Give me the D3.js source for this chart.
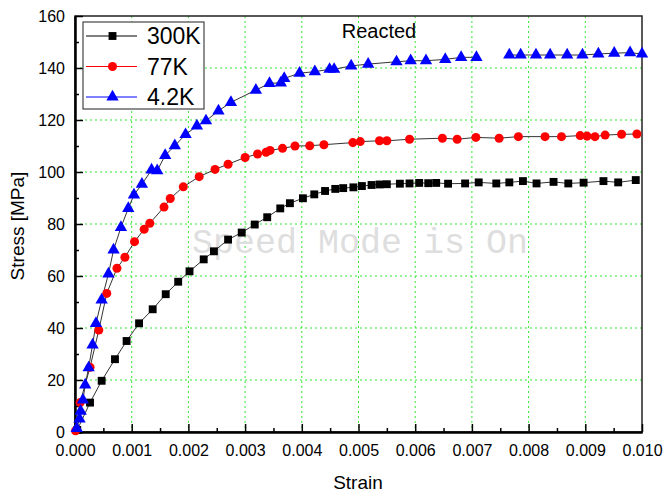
<!DOCTYPE html>
<html><head><meta charset="utf-8">
<script src="https://cdn.jsdelivr.net/npm/d3@7"></script>
<style>body{margin:0;background:#fff}svg{display:block}text{font-family:"Liberation Sans",Arial,sans-serif}</style>
</head><body><svg id="c" width="665" height="493"></svg>
<script>
// ---- data ----
const xTickValues = [0, 0.001, 0.002, 0.003, 0.004, 0.005, 0.006, 0.007, 0.008, 0.009, 0.010];
const yTickValues = [0, 20, 40, 60, 80, 100, 120, 140, 160];
const seriesNames = ["300K", "77K", "4.2K"];
const seriesColors = ["#000000", "#ff0000", "#0000ff"];
const chartTitle = "Reacted";
const xLabel = "Strain";
const yLabel = "Stress [MPa]";
const watermark = "Speed Mode is On";

const data300K = [
  [0.00004,0.8],[0.000265,11.3],[0.00047,19.7],[0.000705,28],[0.00091,35],[0.00113,41.8],[0.00137,47.2],
  [0.0016,53],[0.00182,57.8],[0.00202,61.8],[0.00227,66.4],[0.00245,69.5],[0.0027,74],[0.00294,76.7],
  [0.00317,79.8],[0.00339,82.6],[0.00362,86],[0.00379,88],[0.00402,89.9],[0.00422,91.4],[0.00441,92.7],
  [0.00459,93.5],[0.00473,93.8],[0.00491,94.1],[0.00506,94.6],[0.00523,95],[0.00537,95.2],[0.0055,95.3],
  [0.00573,95.5],[0.0059,95.6],[0.00607,95.8],[0.00623,95.7],[0.00637,95.8],[0.00658,95.5],[0.00688,95.6],
  [0.00712,96],[0.00743,95.6],[0.00766,96],[0.0079,96.5],[0.00814,95.6],[0.00844,96.2],[0.0087,95.6],
  [0.00897,95.9],[0.00932,96.5],[0.00958,96],[0.00989,96.9]
];
const data77K = [
  [0.00001,0.5],[0.00009,11.3],[0.000265,24.9],[0.00042,39.2],[0.00056,53.3],[0.00074,63],[0.00088,67.2],
  [0.00105,73.2],[0.00122,78],[0.00132,80.3],[0.00157,86.5],[0.00168,89.8],[0.00191,94.3],[0.00219,98.2],
  [0.00247,101],[0.0027,103],[0.003,105.6],[0.00322,106.9],[0.00337,107.6],[0.00344,108.3],[0.00366,109.1],
  [0.00388,110],[0.00414,110.1],[0.00439,110.5],[0.0049,111.3],[0.00503,111.7],[0.00537,112],[0.0055,112],
  [0.0059,112.6],[0.00648,113],[0.00674,112.6],[0.00707,113.3],[0.00748,113],[0.00782,113.6],[0.00829,113.6],
  [0.00858,113.6],[0.00891,114],[0.00903,113.8],[0.00917,113.6],[0.00935,114.2],[0.00964,114.5],[0.00991,114.6]
];
const data4K = [
  [0.00003,1.4],[0.00008,5],[0.0001,8],[0.00014,12.3],[0.00018,18.1],[0.00024,24.7],[0.00031,33.5],
  [0.00037,41.8],[0.00047,50.8],[0.00059,60.8],[0.00068,70],[0.00081,78.7],[0.00094,86],[0.00104,91.2],
  [0.00118,95.3],[0.00135,100.8],[0.00145,100.5],[0.00159,106.4],[0.00176,110.1],[0.00195,114.4],
  [0.00215,117.7],[0.00231,119.7],[0.00253,123.5],[0.00275,126.8],[0.00319,131.5],[0.00343,134.1],
  [0.00363,134.3],[0.00369,136],[0.00396,138],[0.00423,138.6],[0.00449,139.5],[0.00457,139.5],
  [0.00487,140.8],[0.00517,141.5],[0.00567,142.4],[0.00592,142.8],[0.00619,142.8],[0.00653,143.3],
  [0.00681,144.1],[0.00708,144.1],null,[0.00766,145],[0.00786,145],[0.00813,145],[0.00838,145],
  [0.00868,145],[0.00895,145],[0.00923,145.4],[0.00951,145.7],[0.00979,145.9],[0.01,145.4]
];
const allSeries = [data300K, data77K, data4K];

// ---- layout ----
const L = 75, R = 642, T = 16, B = 432;
const svg = d3.select("#c");
const x = d3.scaleLinear().domain([0, 0.010]).range([L, R]);
const y = d3.scaleLinear().domain([0, 160]).range([B, T]);

// grid
const gridColor = "#33e633";
svg.append("g").selectAll("line").data(xTickValues.slice(1, -1)).join("line")
  .attr("x1", d => x(d)).attr("x2", d => x(d)).attr("y1", T).attr("y2", B)
  .attr("stroke", gridColor).attr("stroke-width", 1).attr("stroke-dasharray", "2,3");
svg.append("g").selectAll("line").data(yTickValues.slice(1, -1)).join("line")
  .attr("y1", d => y(d)).attr("y2", d => y(d)).attr("x1", L).attr("x2", R)
  .attr("stroke", gridColor).attr("stroke-width", 1).attr("stroke-dasharray", "2,3");

// watermark
svg.append("text").attr("x", 192).attr("y", 253).text(watermark)
  .style("font-family", "'Liberation Mono', 'Courier New', monospace")
  .style("font-size", "35px").attr("fill", "#dedede");

// frame
svg.append("rect").attr("x", L).attr("y", T).attr("width", R - L).attr("height", B - T)
  .attr("fill", "none").attr("stroke", "#222").attr("stroke-width", 1.5);

// axes
const fmt = d3.format(".3f");
const xAxis = svg.append("g").attr("transform", `translate(0,${B})`)
  .call(d3.axisBottom(x).tickValues(xTickValues).tickFormat(fmt).tickSizeInner(-8).tickSizeOuter(0).tickPadding(13));
const xMinor = svg.append("g").attr("transform", `translate(0,${B})`)
  .call(d3.axisBottom(x).tickValues(xTickValues.slice(0, -1).map(v => v + 0.0005)).tickFormat("").tickSizeInner(-4).tickSizeOuter(0));
const yAxis = svg.append("g").attr("transform", `translate(${L},0)`)
  .call(d3.axisLeft(y).tickValues(yTickValues).tickSizeInner(-8).tickSizeOuter(0).tickPadding(10));
const yMinor = svg.append("g").attr("transform", `translate(${L},0)`)
  .call(d3.axisLeft(y).tickValues(yTickValues.slice(0, -1).map(v => v + 10)).tickFormat("").tickSizeInner(-4).tickSizeOuter(0));
[xAxis, xMinor, yAxis, yMinor].forEach(g => {
  g.select(".domain").attr("stroke", "#000").attr("stroke-width", 2);
  g.selectAll(".tick line").attr("stroke", "#000").attr("stroke-width", 1.5);
  g.selectAll(".tick text").style("font-size", "16px").attr("fill", "#000");
});

// series lines
const line = d3.line().defined(d => d != null).x(d => x(d[0])).y(d => y(d[1]));
allSeries.forEach(s => {
  svg.append("path").datum(s).attr("d", line).attr("fill", "none")
    .attr("stroke", "#333").attr("stroke-width", 1);
});

// markers
const symbols = [d3.symbolSquare, d3.symbolCircle, d3.symbolTriangle];
const sizes = [62, 64, 66];
allSeries.forEach((s, i) => {
  svg.append("g").selectAll("path").data(s.filter(d => d != null)).join("path")
    .attr("transform", d => `translate(${x(d[0])},${y(d[1])})`)
    .attr("d", d3.symbol().type(symbols[i]).size(sizes[i]))
    .attr("fill", seriesColors[i]);
});

// title
svg.append("text").attr("x", 379).attr("y", 38).attr("text-anchor", "middle")
  .style("font-size", "20px").text(chartTitle);

// axis titles
svg.append("text").attr("x", 358).attr("y", 489).attr("text-anchor", "middle")
  .style("font-size", "19px").text(xLabel);
svg.append("text").attr("transform", "translate(24,226) rotate(-90)").attr("text-anchor", "middle")
  .style("font-size", "19px").text(yLabel);

// legend
const lg = svg.append("g");
lg.append("rect").attr("x", 83).attr("y", 22).attr("width", 121).attr("height", 87)
  .attr("fill", "#fff").attr("stroke", "#444").attr("stroke-width", 1.2);
const rowY = [36, 66.5, 97];
seriesNames.forEach((n, i) => {
  lg.append("line").attr("x1", 86).attr("x2", 137).attr("y1", rowY[i]).attr("y2", rowY[i])
    .attr("stroke", i === 0 ? "#000" : seriesColors[i]).attr("stroke-width", 1);
  lg.append("path").attr("transform", `translate(112.5,${rowY[i]})`)
    .attr("d", d3.symbol().type(symbols[i]).size(sizes[i])).attr("fill", seriesColors[i]);
  lg.append("text").attr("x", 147).attr("y", rowY[i]).attr("dy", "0.36em")
    .style("font-size", "23px").text(n);
});
</script>
</body></html>
